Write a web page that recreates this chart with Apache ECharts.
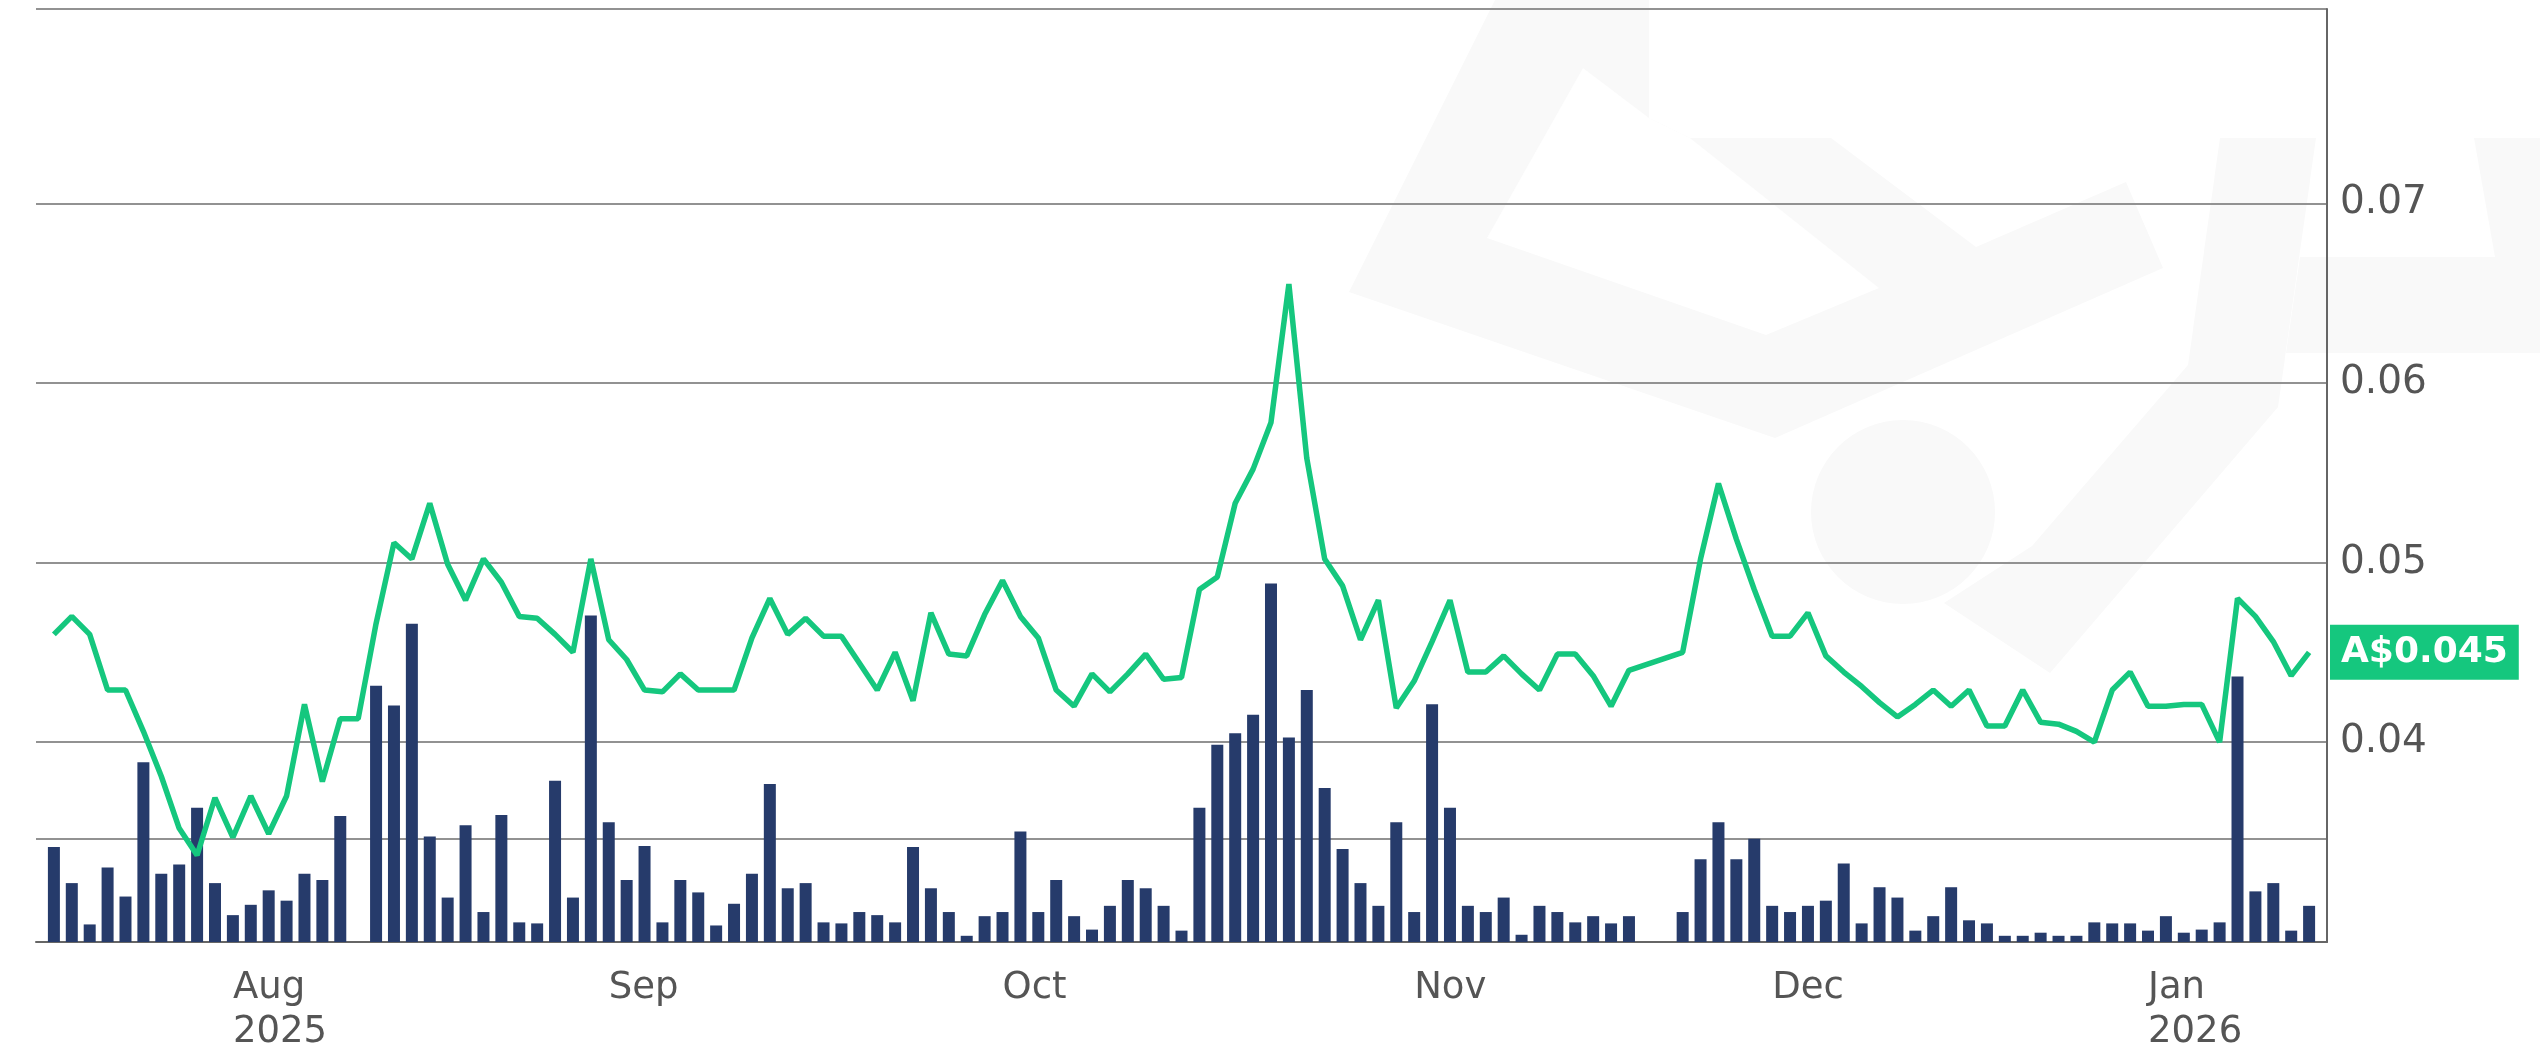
<!DOCTYPE html>
<html>
<head>
<meta charset="utf-8">
<title>Price and volume</title>
<script src="https://cdn.jsdelivr.net/npm/echarts@6/dist/echarts.min.js"></script>
<style>
	html, body { margin: 0; padding: 0; background: #fff; }
	#chart { width: 2540px; height: 1054px; }
</style>
</head>
<body>
<div id="chart"></div>
<script>
// trading-day index of the first session of each month + its label
var monthStart = [11, 32, 54, 77, 97, 118];
var monthLabels = ['Aug\n2025', 'Sep', 'Oct', 'Nov', 'Dec', 'Jan\n2026'];

// close price (A$), one per trading day, null = no record
var price = [
	0.0460, 0.0470, 0.0460, 0.0429, 0.0429, 0.0406, 0.0381, 0.0352, 0.0337, 0.0369,
	0.0347, 0.0370, 0.0349, 0.0370, 0.0421, 0.0378, 0.0413, 0.0413, 0.0466, 0.0511,
	0.0502, 0.0533, 0.0499, 0.0479, 0.0502, 0.0489, 0.0470, 0.0469, 0.0460, 0.0450,
	0.0502, 0.0457, 0.0446, 0.0429, 0.0428, 0.0438, 0.0429, 0.0429, 0.0429, 0.0458,
	0.0480, 0.0460, 0.0469, 0.0459, 0.0459, 0.0444, 0.0429, 0.0450, 0.0423, 0.0472,
	0.0449, 0.0448, 0.0471, 0.0490, 0.0470, 0.0458, 0.0429, 0.0420, 0.0438, 0.0428,
	0.0438, 0.0449, 0.0435, 0.0436, 0.0485, 0.0492, 0.0533, 0.0552, 0.0578, 0.0655,
	0.0558, 0.0502, 0.0487, 0.0457, 0.0479, 0.0419, 0.0434, 0.0456, 0.0479, 0.0439,
	0.0439, 0.0448, 0.0438, 0.0429, 0.0449, 0.0449, 0.0437, 0.0420, 0.0440, null,
	null, 0.0450, 0.0502, 0.0544, 0.0513, 0.0485, 0.0459, 0.0459, 0.0472, 0.0448,
	0.0439, 0.0431, 0.0422, 0.0414, 0.0421, 0.0429, 0.0420, 0.0429, 0.0409, 0.0409,
	0.0429, 0.0411, 0.0410, 0.0406, 0.0400, 0.0429, 0.0439, 0.0420, 0.0420, 0.0421,
	0.0421, 0.0400, 0.0480, 0.0470, 0.0456, 0.0437, 0.0450
];

// daily volume (millions of shares), null = no trades
var volume = [
	0.92, 0.57, 0.17, 0.72, 0.44, 1.74, 0.66, 0.75, 1.30, 0.57,
	0.26, 0.36, 0.50, 0.40, 0.66, 0.60, 1.22, null, 2.48, 2.29,
	3.08, 1.02, 0.43, 1.13, 0.29, 1.23, 0.19, 0.18, 1.56, 0.43,
	3.16, 1.16, 0.60, 0.93, 0.19, 0.60, 0.48, 0.16, 0.37, 0.66,
	1.53, 0.52, 0.57, 0.19, 0.18, 0.29, 0.26, 0.19, 0.92, 0.52,
	0.29, 0.06, 0.25, 0.29, 1.07, 0.29, 0.60, 0.25, 0.12, 0.35,
	0.60, 0.52, 0.35, 0.11, 1.30, 1.91, 2.02, 2.20, 3.47, 1.98,
	2.44, 1.49, 0.90, 0.57, 0.35, 1.16, 0.29, 2.30, 1.30, 0.35,
	0.29, 0.43, 0.07, 0.35, 0.29, 0.19, 0.25, 0.18, 0.25, null,
	null, 0.29, 0.80, 1.16, 0.80, 1.00, 0.35, 0.29, 0.35, 0.40,
	0.76, 0.18, 0.53, 0.43, 0.11, 0.25, 0.53, 0.21, 0.18, 0.06,
	0.06, 0.09, 0.06, 0.06, 0.19, 0.18, 0.18, 0.11, 0.25, 0.09,
	0.12, 0.19, 2.57, 0.49, 0.57, 0.11, 0.35
];

var priceTicks = [0.04, 0.05, 0.06, 0.07];
var volumeTicks = [1];
var priceMin = 0.02887, priceMax = 0.08082;
var volumeMax = 9.03;

var priceData = [], volData = [];
for (var i = 0; i < price.length; i++) {
	if (price[i] != null) priceData.push([i, price[i]]);
	if (volume[i] != null) volData.push([i, volume[i]]);
}
var lastPrice = priceData[priceData.length - 1][1];

// faint logo watermark behind the plot
var wm = '#f9f9f9';
var watermark = [
	{ type: 'polygon', z: -10, silent: true, style: { fill: wm },
		shape: { points: [[1495, 0], [1649, 0], [1649, 118], [1690, 138], [1831, 138], [1976, 247], [2126, 182], [2163, 268], [1775, 438], [1349, 292]] } },
	{ type: 'polygon', z: -9, silent: true, style: { fill: '#fff' },
		shape: { points: [[1583, 68], [1487, 238], [1766, 335], [1879, 288], [1690, 138], [1649, 118]] } },
	{ type: 'circle', z: -10, silent: true, style: { fill: wm },
		shape: { cx: 1903, cy: 512, r: 92 } },
	{ type: 'polygon', z: -10, silent: true, style: { fill: wm },
		shape: { points: [[2220, 138], [2316, 138], [2278, 407], [2050, 673], [1944, 603], [2032, 546], [2188, 365]] } },
	{ type: 'polygon', z: -10, silent: true, style: { fill: wm },
		shape: { points: [[2474, 138], [2540, 138], [2540, 353], [2286, 353], [2300, 257], [2495, 257]] } }
];

var myChart = echarts.init(document.getElementById('chart'));
var option = {
	animation: false,
	textStyle: { fontFamily: 'DejaVu Sans' },
	graphic: watermark,
	grid: { left: 36, right: 213, top: 9, bottom: 106 },
	xAxis: {
		type: 'value',
		min: -1,
		max: price.length,
		interval: 1,
		axisLine: { show: true, onZero: false, lineStyle: { color: '#666', width: 2 } },
		axisTick: { show: false },
		splitLine: { show: false },
		axisLabel: {
			// month names sit just left of the month's first session
			formatter: function(v) {
				var k = monthStart.indexOf(v + 1);
				return k < 0 ? '' : monthLabels[k];
			},
			align: 'left',
			fontSize: 37,
			lineHeight: 44,
			margin: 24,
			color: '#555'
		}
	},
	yAxis: [{
		type: 'value',
		position: 'right',
		min: priceMin,
		max: priceMax,
		axisLine: { show: true, onZero: false, lineStyle: { color: '#666', width: 2 } },
		axisTick: { show: false, customValues: priceTicks.concat([priceMax]) },
		axisLabel: {
			customValues: priceTicks,
			formatter: function(v) { return v.toFixed(2); },
			fontSize: 39,
			margin: 13,
			color: '#555'
		},
		splitLine: { show: true, lineStyle: { color: '#929292', width: 2 } }
	}, {
		type: 'value',
		position: 'left',
		min: 0,
		max: volumeMax,
		axisLine: { show: false, onZero: false },
		axisTick: { show: false, customValues: volumeTicks },
		axisLabel: { show: false },
		splitLine: { show: true, lineStyle: { color: '#929292', width: 2 } }
	}],
	series: [{
		name: 'Volume',
		type: 'bar',
		yAxisIndex: 1,
		barWidth: 12,
		itemStyle: { color: '#263b6b' },
		data: volData
	}, {
		name: 'Price',
		type: 'line',
		yAxisIndex: 0,
		symbol: 'none',
		connectNulls: true,
		lineStyle: { color: '#15c77e', width: 5.5 },
		z: 3,
		data: priceData,
		markLine: {
			silent: true,
			precision: 4,
			symbol: ['none', 'none'],
			lineStyle: { color: 'rgba(0,0,0,0)', width: 0 },
			label: {
				show: true,
				position: 'end',
				distance: 3,
				formatter: function(p) { return 'A$' + p.value.toFixed(3); },
				color: '#fff',
				fontWeight: 'bold',
				fontSize: 36,
				lineHeight: 39,
				padding: [8, 11, 8, 11],
				backgroundColor: '#15c77e'
			},
			data: [{ yAxis: lastPrice }]
		}
	}]
};
myChart.setOption(option);
</script>
</body>
</html>
